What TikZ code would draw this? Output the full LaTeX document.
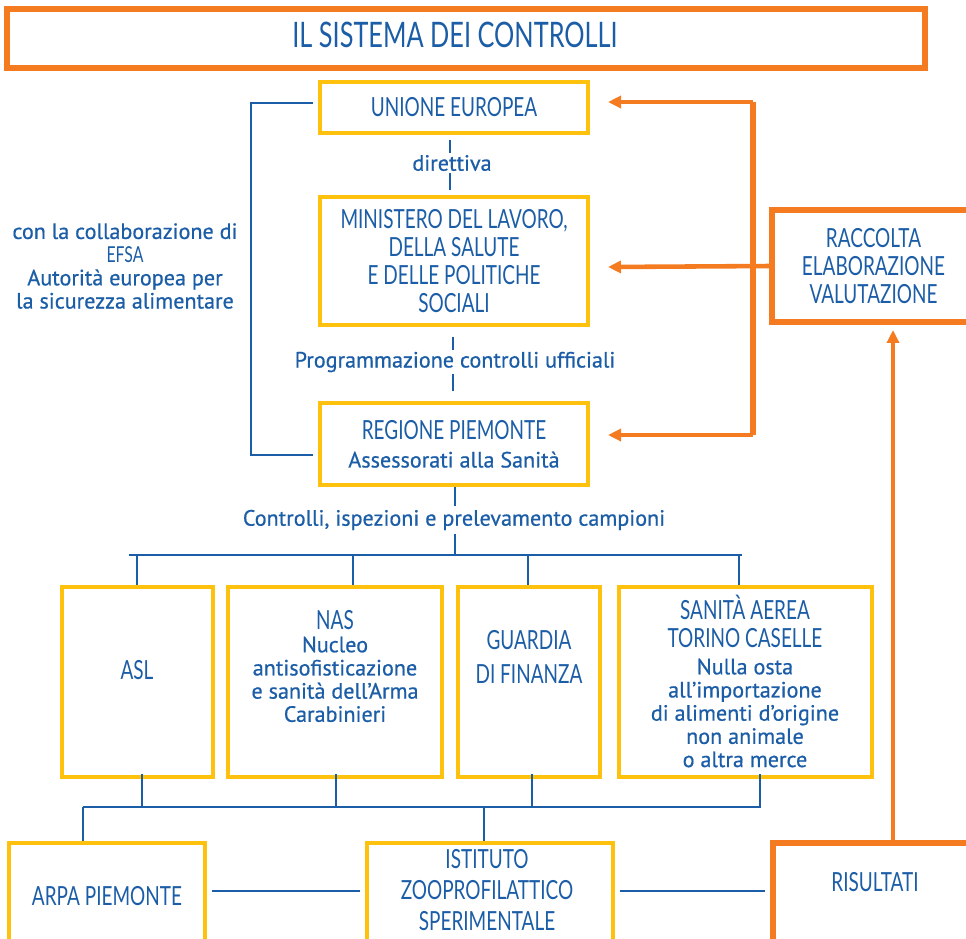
\documentclass[tikz,border=0pt]{standalone}
\usepackage{fontspec}
\setmainfont[FakeBold=0.6]{PT Sans}
\newfontfamily\hand[FakeStretch=0.72]{Lato}
\usetikzlibrary{arrows.meta}

\definecolor{ctblue}{HTML}{1B5DA6}
\definecolor{ctorange}{HTML}{F47B20}
\definecolor{ctyellow}{HTML}{FDC10E}

\newcommand{\handfont}{\hand\fontsize{15}{16}\selectfont}
\newcommand{\smallhand}{\hand\fontsize{12.5}{13}\selectfont}
\newcommand{\bodyfont}{\normalfont\fontsize{12.6}{13.2}\selectfont}

\begin{document}
\begin{tikzpicture}[x=0.02cm,y=-0.02cm,
	ybox/.style={draw=ctyellow, line width=2.3pt, inner sep=0pt},
	obox/.style={draw=ctorange, line width=3pt, inner sep=0pt},
	hand/.style={text=ctblue, font=\handfont, align=center},
	body/.style={text=ctblue, font=\bodyfont, align=center},
	bline/.style={draw=ctblue, line width=1.3pt},
	oline/.style={draw=ctorange, line width=2.6pt},
	oarrow/.style={oline, -{Triangle[length=0.26cm,width=0.24cm]}}]
	\useasboundingbox (0,0) rectangle (966,938);

	% title
	\node[obox, minimum width=18.36cm, minimum height=1.18cm] (title) at (466,38.5) {};
	\node[hand, font=\hand\fontsize{20}{22}\selectfont] (title-t) at (455,35) {IL SISTEMA DEI CONTROLLI};

	% chain of institutions
	\node[ybox, hand, minimum width=5.36cm, minimum height=1.02cm] (ue) at (454,107.5) {UNIONE EUROPEA};
	\node[ybox, hand, minimum width=5.36cm, minimum height=2.56cm] (min) at (454,261) {MINISTERO DEL LAVORO,\\DELLA SALUTE\\E DELLE POLITICHE\\SOCIALI};
	\node[ybox, hand, minimum width=5.36cm, minimum height=1.64cm] (reg) at (454,444) {REGIONE PIEMONTE\\{\bodyfont Assessorati alla Sanità}};

	\draw[bline, shorten <=0.1cm, shorten >=0.1cm] (ue.south -| 450,0) -- (min.north -| 450,0);
	\draw[bline, shorten <=0.2cm, shorten >=0.2cm] (min.south -| 453,0) -- (reg.north -| 453,0);
	\node[body, fill=white, inner sep=1pt] (dir) at (452,163) {direttiva};
	\node[body, fill=white, inner sep=1pt] (prog) at (455,362) {Programmazione controlli ufficiali};

	% EFSA bracket
	\coordinate (lbr) at (251,280);
	\draw[bline] ([xshift=-0.1cm, yshift=0.09cm]ue.west) -| (lbr) |- ([xshift=-0.1cm, yshift=-0.22cm]reg.west);
	\node[body] (efsa) at (125,266) {con la collaborazione di\\{\smallhand EFSA}\\Autorità europea per\\la sicurezza alimentare};

	% feedback
	\node[obox, line width=3.4pt, hand, minimum width=4.06cm, minimum height=2.24cm] (racc) at (873.5,266) {RACCOLTA\\ELABORAZIONE\\VALUTAZIONE};
	\coordinate (ob1) at (753,102);
	\coordinate (ob3) at (753,435);
	\coordinate (t1) at (608,102);
	\coordinate (t2) at (608,267);
	\coordinate (t3) at (608,435);
	\draw[oline, line width=3pt] (ob1) -- (ob3);
	\draw[oarrow] (ob1) -- (t1);
	\draw[oarrow] (racc.west) -- (t2);
	\draw[oarrow] (ob3) -- (t3);

	% controls
	\coordinate (b1) at (455,555);
	\draw[bline] (reg.south -| b1) -- (b1);
	\node[body, fill=white, inner sep=2pt] (ctrl) at (454,520) {Controlli, ispezioni e prelevamento campioni};
	\draw[bline] (129,555) -- (742,555);

	\node[ybox, minimum width=3.02cm, minimum height=3.8cm] (asl) at (137.5,682) {};
	\node[ybox, minimum width=4.28cm, minimum height=3.8cm] (nas) at (335,682) {};
	\node[ybox, minimum width=2.84cm, minimum height=3.8cm] (gdf) at (529,682) {};
	\node[ybox, minimum width=5.06cm, minimum height=3.8cm] (san) at (745.5,682) {};
	\foreach \n/\x in {asl/137,nas/353,gdf/528,san/739}
		\draw[bline] (\x,555) -- (\n.north -| \x,0);

	\node[hand] (asl-t) at (137,670) {ASL};
	\node[body] (nas-t) at (335,666) {{\handfont NAS}\\Nucleo\\antisofisticazione\\e sanità dell’Arma\\Carabinieri};
	\node[hand, font=\hand\fontsize{15}{19}\selectfont] (gdf-t) at (529,657) {GUARDIA\\DI FINANZA};
	\node[body] (san-t) at (745,681) {{\handfont SANITÀ AEREA}\\[3pt]{\handfont TORINO CASELLE}\\[2pt]Nulla osta\\all’importazione\\di alimenti d’origine\\non animale\\o altra merce};

	% laboratories
	\coordinate (b2) at (83,807);
	\coordinate (b3) at (761,807);
	\foreach \n/\x in {asl/142,nas/336,gdf/532,san/760}
		\draw[bline, shorten <=-0.1cm] (\n.south -| \x,0) -- (\x,807);
	\draw[bline] (b2) -- (b3);

	\node[ybox, hand, minimum width=3.92cm, minimum height=2.12cm] (arpa) at (107,896) {ARPA PIEMONTE};
	\node[ybox, minimum width=4.92cm, minimum height=2.12cm] (izs) at (490,896) {};
	\node[obox, line width=3.4pt, minimum width=4.04cm, minimum height=2.12cm] (ris) at (874,896) {};
	\node[hand, font=\hand\fontsize{15}{17.5}\selectfont] (izs-t) at (487,890) {ISTITUTO\\ZOOPROFILATTICO\\SPERIMENTALE};
	\node[hand] (ris-t) at (875,882) {RISULTATI};

	\draw[bline] (b2) -- (arpa.north -| b2);
	\draw[bline] (484,807) -- (izs.north -| 484,0);
	\draw[bline, shorten <=0.1cm, shorten >=0.1cm] (arpa.east |- 0,891) -- (izs.west |- 0,891);
	\draw[bline, shorten <=0.1cm, shorten >=0.1cm] (izs.east |- 0,891) -- (ris.west |- 0,891);

	\coordinate (up) at (893,0);
	\draw[oarrow, shorten >=0.1cm] (ris.north -| up) -- (racc.south -| up);
\end{tikzpicture}
\end{document}
